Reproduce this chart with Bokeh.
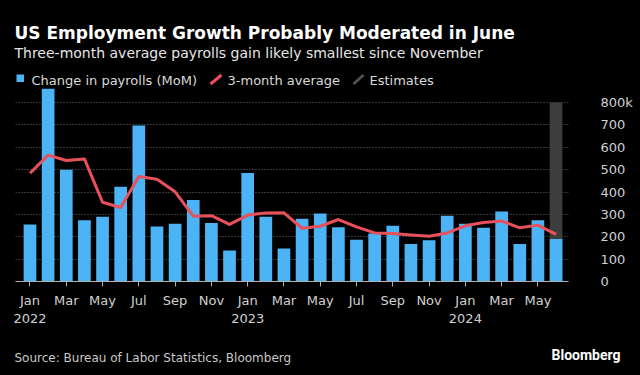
from bokeh.plotting import figure
from bokeh.models import Range1d, FixedTicker
from bokeh.layouts import column
from bokeh.core.properties import value
from bokeh.embed import file_html
from bokeh.resources import INLINE

# ---- data ----
month_idx = list(range(30))  # Jan 2022 .. Jun 2024
payrolls = [255, 865, 499, 274, 289, 424, 697, 246, 258, 364, 261, 138,
            485, 289, 147, 281, 304, 243, 187, 214, 249, 168, 184, 294,
            258, 240, 313, 168, 274, 190]
avg3 = [484, 565, 541, 548, 354, 331, 469, 457, 401, 292, 294, 255,
        297, 306, 307, 238, 247, 277, 244, 217, 214, 208, 202, 217,
        249, 264, 270, 240, 252, 211]
estimate_idx = [29]
estimate_top = [800]
tick_pos = list(range(0, 30, 2))
tick_labels = ["Jan\n2022", "Mar", "May", "Jul", "Sep", "Nov",
               "Jan\n2023", "Mar", "May", "Jul", "Sep", "Nov",
               "Jan\n2024", "Mar", "May"]
y_ticks = [0, 100, 200, 300, 400, 500, 600, 700, 800]
y_labels = ["0", "100", "200", "300", "400", "500", "600", "700", "800k"]
title_text = "US Employment Growth Probably Moderated in June"
subtitle_text = "Three-month average payrolls gain likely smallest since November"
legend_labels = ["Change in payrolls (MoM)", "3-month average", "Estimates"]
source_text = "Source: Bureau of Labor Statistics, Bloomberg"
brand_text = "Bloomberg"

BLUE = "#4cb3f5"
RED = "#e8505b"
GREY_EST = "#3d3d3d"
FONT = "DejaVu Sans"
BG = "black"

HEAD_H = 88
MAIN_H = 247
FOOT_H = 375 - HEAD_H - MAIN_H

def blank(h):
    f = figure(width=640, height=h, output_backend="svg", toolbar_location=None,
               title=None,
               x_range=Range1d(0, 640), y_range=Range1d(h, 0),
               x_axis_type=None, y_axis_type=None,
               background_fill_color=BG, border_fill_color=BG,
               min_border=0, min_border_left=0, min_border_right=0,
               min_border_top=0, min_border_bottom=0, frame_align=False)
    f.outline_line_color = None
    f.grid.visible = False
    return f

# ---- header (canvas y 0..HEAD_H) ----
head = blank(HEAD_H)
head.text(x=[14], y=[32], text=[title_text], text_font=value(FONT),
          text_font_size=value("17px"), text_font_style="bold",
          text_color="#ffffff", text_baseline="alphabetic")
head.text(x=[14], y=[52], text=[subtitle_text], text_font=value(FONT),
          text_font_size=value("14px"), text_color="#e6e6e6",
          text_baseline="alphabetic")
head.quad(left=[16], right=[23.5], top=[74], bottom=[81.5], fill_color=BLUE, line_color=None)
head.segment(x0=[210, 353], y0=[83.5, 83.5], x1=[221, 363], y1=[74.5, 74.5],
             line_color=[RED, "#505050"], line_width=3)
head.text(x=[31, 227, 369], y=[80, 80, 80], text=legend_labels,
          text_font=value(FONT), text_font_size=value("13px"),
          text_color="#d9d9d9", text_baseline="alphabetic")

# ---- main chart (canvas y HEAD_H..HEAD_H+MAIN_H); frame 15..568 x, to y=281 ----
y_end = (281 - HEAD_H) / (179 / 800)
p = figure(width=640, height=MAIN_H, output_backend="svg", toolbar_location=None,
           title=None,
           x_range=Range1d(-0.799, 29.686), y_range=Range1d(0, y_end),
           y_axis_location="right",
           background_fill_color=BG, border_fill_color=BG,
           min_border_left=15, min_border_right=72, min_border_top=0,
           min_border_bottom=HEAD_H + MAIN_H - 281, frame_align=False)
p.outline_line_color = None

p.vbar(x=estimate_idx, top=estimate_top, bottom=0, width=0.7,
       fill_color=GREY_EST, line_color=None)
p.vbar(x=month_idx, top=payrolls, bottom=0, width=0.7,
       fill_color=BLUE, line_color=None)
p.line(x=month_idx, y=avg3, line_color=RED, line_width=3, line_join="round")

p.xgrid.visible = False
p.ygrid.ticker = FixedTicker(ticks=y_ticks[1:])
p.ygrid.grid_line_color = "#6a6a6a"
p.ygrid.grid_line_dash = "1 2"
p.ygrid.grid_line_width = 1

xa = p.xaxis[0]
xa.ticker = FixedTicker(ticks=tick_pos)
xa.major_label_overrides = {t: l for t, l in zip(tick_pos, tick_labels)}
xa.axis_line_color = "#b0b0b0"
xa.major_tick_line_color = "#b0b0b0"
xa.major_tick_out = 5
xa.major_tick_in = 0
xa.minor_tick_line_color = None
xa.major_label_standoff = 6
xa.major_label_text_color = "#d0d0d0"
xa.major_label_text_font = FONT
xa.major_label_text_font_size = "13px"

ya = p.yaxis[0]
ya.ticker = FixedTicker(ticks=y_ticks)
ya.major_label_overrides = {t: l for t, l in zip(y_ticks, y_labels)}
ya.axis_line_color = None
ya.major_tick_line_color = None
ya.minor_tick_line_color = None
ya.major_label_standoff = 26
ya.major_label_text_align = "left"
ya.major_label_text_color = "#d0d0d0"
ya.major_label_text_font = FONT
ya.major_label_text_font_size = "13px"

# ---- footer ----
foot = blank(FOOT_H)
top_y = HEAD_H + MAIN_H
foot.text(x=[14], y=[357 - top_y], text=[source_text], text_font=value(FONT),
          text_font_size=value("12px"), text_color="#c8c8c8",
          text_baseline="alphabetic")
foot.text(x=[620], y=[354 - top_y], text=[brand_text], text_font=value("Roboto"),
          text_font_size=value("14px"), text_font_style="bold",
          text_color="#ffffff", text_align="right", text_baseline="alphabetic")

layout = column(head, p, foot, spacing=0, styles={"background-color": "black"})
open("out.html", "w").write(file_html(layout, INLINE))
